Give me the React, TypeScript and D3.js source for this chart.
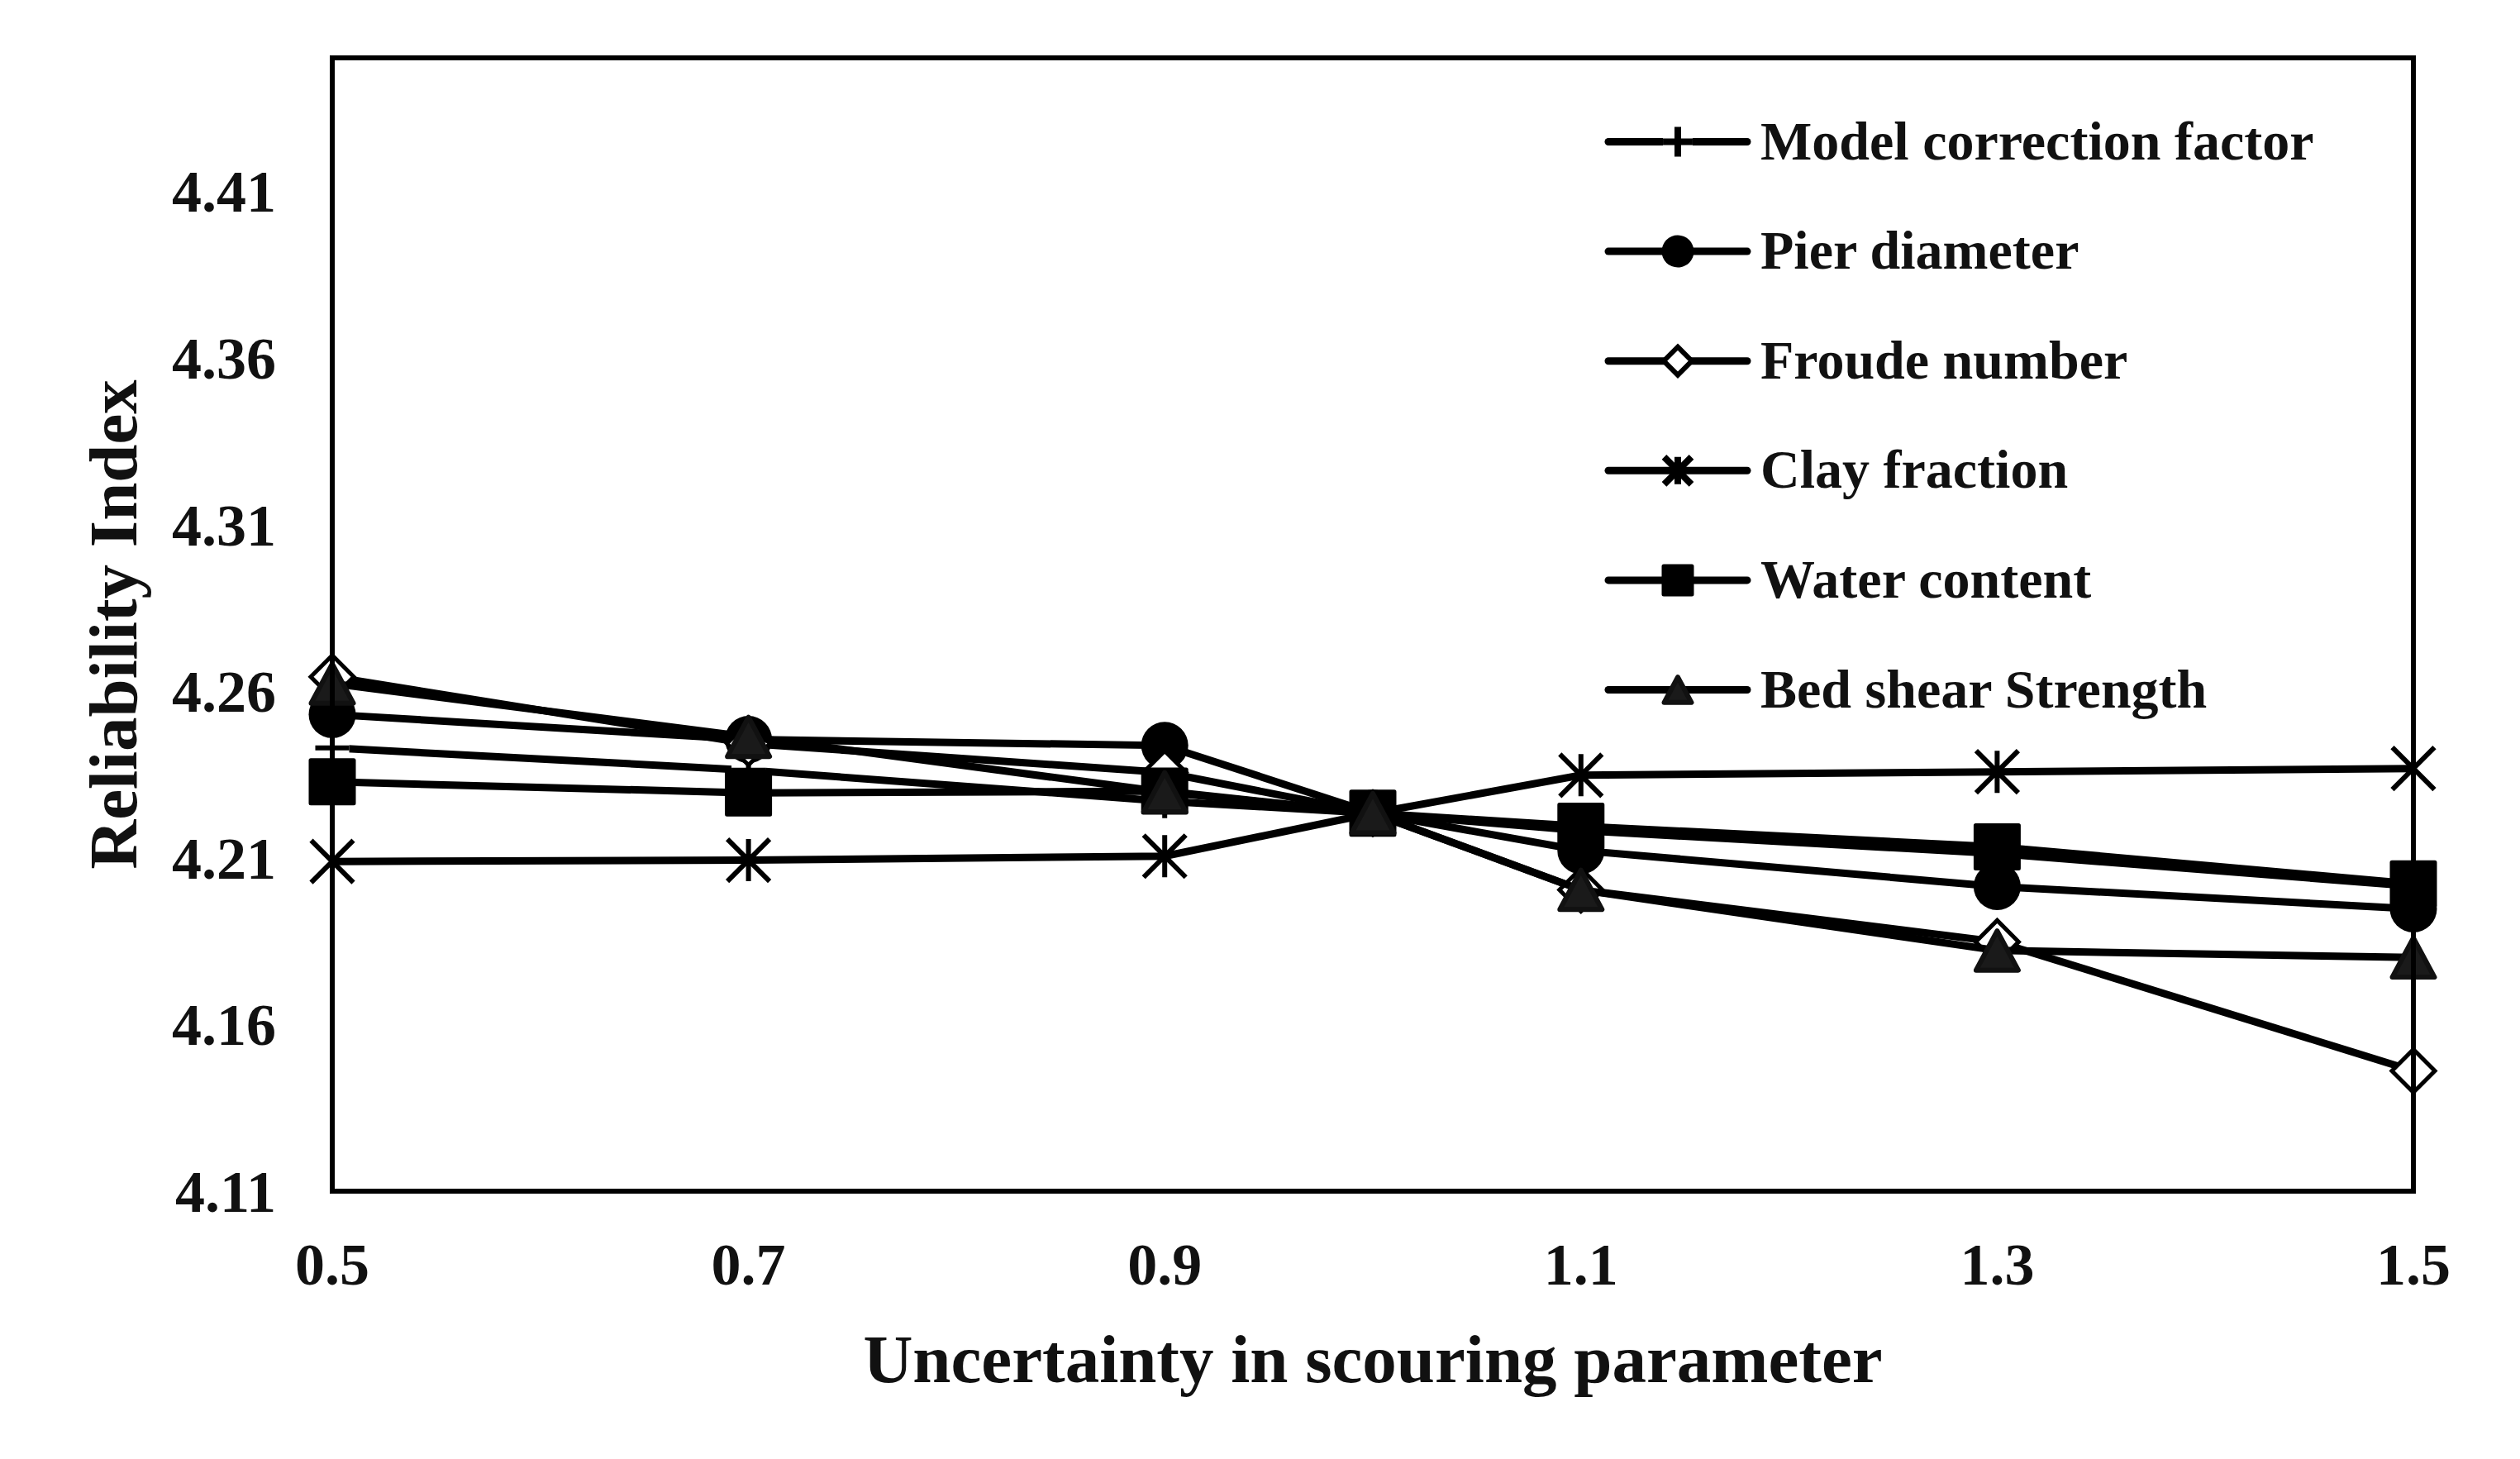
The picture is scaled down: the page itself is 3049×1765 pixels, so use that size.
import React from "react";
import * as d3 from "d3";

const xValues = [0.5, 0.7, 0.9, 1.0, 1.1, 1.3, 1.5];
const xTickValues = [0.5, 0.7, 0.9, 1.1, 1.3, 1.5];
const yTickValues = [4.11, 4.16, 4.21, 4.26, 4.31, 4.36, 4.41];

const modelCorrection = [4.243, 4.2363, 4.227, 4.2234, 4.2182, 4.2113, 4.2015];
const pierDiameter = [4.253, 4.2455, 4.2437, 4.2234, 4.2122, 4.2014, 4.1947];
const froudeNumber = [4.2643, 4.2443, 4.2356, 4.2234, 4.2004, 4.1848, 4.1461];
const clayFraction = [4.2089, 4.2093, 4.2105, 4.2234, 4.2348, 4.2358, 4.2368];
const waterContent = [4.2328, 4.2295, 4.23, 4.2234, 4.2195, 4.2133, 4.2022];
const bedShear = [4.2623, 4.2463, 4.2297, 4.2234, 4.2004, 4.1822, 4.1801];

const seriesNames = [
  "Model correction factor",
  "Pier diameter",
  "Froude number",
  "Clay fraction",
  "Water content",
  "Bed shear Strength",
];
const seriesMarkers = ["plus", "circle", "diamond", "star", "square", "triangle"];
const seriesValues = [modelCorrection, pierDiameter, froudeNumber, clayFraction, waterContent, bedShear];

const W = 3049;
const H = 1765;
const M = { left: 402, right: 2920, top: 70, bottom: 1441 };
const FONT = "'Liberation Serif', 'Times New Roman', serif";

function Marker({ type, x, y, s, legend }: { type: string; x: number; y: number; s: number; legend?: boolean }) {
  const sw = legend ? 8 : 6;
  if (type === "plus") {
    const h = legend ? s * 0.46 : s * 0.36;
    const d = `M${x - h},${y}H${x + h}M${x},${y - h}V${y + h}`;
    return (
      <g>
        <path d={d} stroke="#fff" strokeWidth={sw + 8} fill="none" />
        <path d={d} stroke="#000" strokeWidth={sw} fill="none" />
      </g>
    );
  }
  if (type === "circle") {
    return <circle cx={x} cy={y} r={s / 2} fill="#000" />;
  }
  if (type === "diamond") {
    const h = s / 2 - 2.5;
    return (
      <path
        d={`M${x},${y - h}L${x + h},${y}L${x},${y + h}L${x - h},${y}Z`}
        fill="#fff"
        stroke="#000"
        strokeWidth={legend ? 6 : 5}
        strokeLinejoin="miter"
      />
    );
  }
  if (type === "star") {
    const h = s / 2 - 3;
    const d = `M${x - h},${y - h}L${x + h},${y + h}M${x + h},${y - h}L${x - h},${y + h}M${x},${y - h}V${y + h}`;
    return <path d={d} stroke="#000" strokeWidth={sw} fill="none" />;
  }
  if (type === "square") {
    const h = s / 2 - 2.5;
    return (
      <rect
        x={x - h}
        y={y - h}
        width={2 * h}
        height={2 * h}
        fill="#000"
        stroke="#000"
        strokeWidth={5}
        strokeLinejoin="round"
      />
    );
  }
  const hw = s / 2 - 3;
  const hh = s * 0.47 - 3;
  return (
    <path
      d={`M${x},${y - hh}L${x + hw},${y + hh}L${x - hw},${y + hh}Z`}
      fill="#1a1a1a"
      stroke="#111"
      strokeWidth={6}
      strokeLinejoin="round"
    />
  );
}

export default function App() {
  const x = d3.scaleLinear().domain([0.5, 1.5]).range([M.left, M.right]);
  const y = d3.scaleLinear().domain([4.11, 4.45]).range([M.bottom, M.top]);
  const line = d3
    .line<[number, number]>()
    .x((d) => x(d[0]))
    .y((d) => y(d[1]));

  const legendX0 = 1946;
  const legendX1 = 2114;
  const legendMx = 2030;
  const legendTop = 171.5;
  const legendStep = 132.6;

  return (
    <svg
      width={W}
      height={H}
      viewBox={`0 0 ${W} ${H}`}
      style={{ position: "absolute", left: 0, top: 0, background: "#fff" }}
      fontFamily={FONT}
      fontWeight="bold"
    >
      <rect x={0} y={0} width={W} height={H} fill="#fff" />

      {seriesValues.map((vals, i) => {
        const pts = xValues.map((xv, j) => [xv, vals[j]] as [number, number]);
        return (
          <g key={seriesNames[i]}>
            <path d={line(pts) || ""} fill="none" stroke="#000" strokeWidth={9} />
            {pts.map((p, j) => (
              <Marker key={j} type={seriesMarkers[i]} x={x(p[0])} y={y(p[1])} s={57} />
            ))}
          </g>
        );
      })}

      <rect
        x={M.left}
        y={M.top}
        width={M.right - M.left}
        height={M.bottom - M.top}
        fill="none"
        stroke="#000"
        strokeWidth={6}
      />

      {yTickValues.map((t) => (
        <text key={t} x={334} y={y(t) + 25} textAnchor="end" fontSize={72} fill="#111">
          {t.toFixed(2)}
        </text>
      ))}

      {xTickValues.map((t) => (
        <text key={t} x={x(t)} y={1554} textAnchor="middle" fontSize={72} fill="#111">
          {t.toFixed(1)}
        </text>
      ))}

      <text x={(M.left + M.right) / 2} y={1672} textAnchor="middle" fontSize={83} fill="#111">
        Uncertainty in scouring parameter
      </text>
      <text
        transform={`translate(165,${(M.top + M.bottom) / 2}) rotate(-90)`}
        textAnchor="middle"
        fontSize={83}
        fill="#111"
      >
        Reliability Index
      </text>

      {seriesNames.map((name, i) => {
        const ly = legendTop + i * legendStep;
        return (
          <g key={name}>
            <line
              x1={legendX0}
              x2={legendX1}
              y1={ly}
              y2={ly}
              stroke="#000"
              strokeWidth={9}
              strokeLinecap="round"
            />
            <Marker type={seriesMarkers[i]} x={legendMx} y={ly} s={39} legend />
            <text x={2130} y={ly + 21} fontSize={66} fill="#111">
              {name}
            </text>
          </g>
        );
      })}
    </svg>
  );
}
